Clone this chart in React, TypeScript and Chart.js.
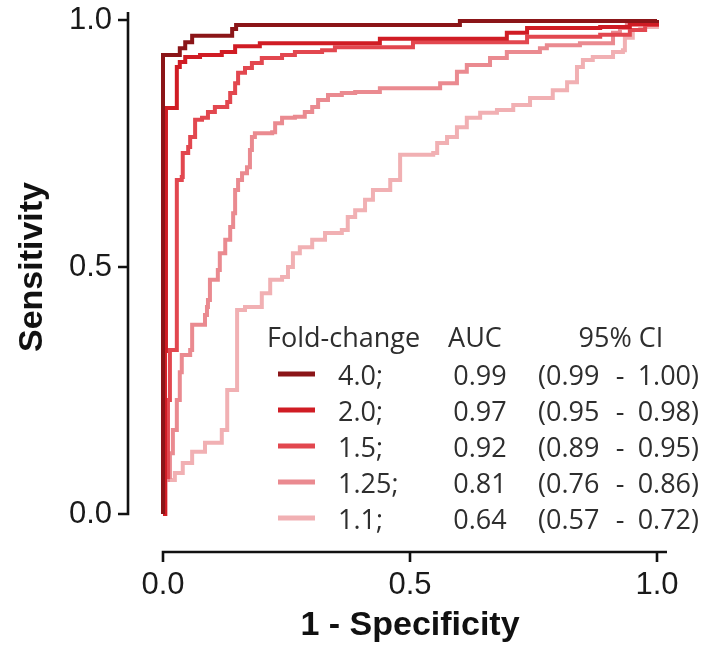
import React, { useEffect, useRef } from 'react';
import { Chart, registerables } from 'chart.js';

Chart.register(...registerables);

// ---- Data ----
const foldChanges = ['4.0;', '2.0;', '1.5;', '1.25;', '1.1;'];
const aucValues = ['0.99', '0.97', '0.92', '0.81', '0.64'];
const ciLow = ['0.99', '0.95', '0.89', '0.76', '0.57'];
const ciHigh = ['1.00', '0.98', '0.95', '0.86', '0.72'];
const seriesColors = ['#8b1518', '#d01c24', '#e2474f', '#ea8a90', '#f1b0b3'];
const axisTicks = [0, 0.5, 1];

// 1 - specificity (x) and sensitivity (y) for each fold-change curve
const fpr40 = [0, 0, 0.034, 0.045, 0.059, 0.140, 0.148, 0.601, 1];
const tpr40 = [0, 0.929, 0.943, 0.955, 0.968, 0.982, 0.990, 0.998, 1];

const fpr20 = [0, 0.004, 0.006, 0.028, 0.034, 0.045, 0.075, 0.119, 0.146, 0.196, 0.439, 0.696, 0.737, 0.885, 0.945, 1];
const tpr20 = [0, 0.33, 0.822, 0.905, 0.915, 0.925, 0.929, 0.935, 0.947, 0.953, 0.962, 0.974, 0.984, 0.986, 0.992, 1];

const fpr15 = [0, 0.004, 0.010, 0.014, 0.028, 0.038, 0.040, 0.051, 0.055, 0.065, 0.079, 0.091, 0.105, 0.130, 0.136, 0.146, 0.152, 0.166, 0.180, 0.200, 0.241, 0.267, 0.322, 0.348, 0.506, 0.737, 0.885, 0.945, 0.976, 1];
const tpr15 = [0, 0.075, 0.231, 0.332, 0.676, 0.682, 0.731, 0.743, 0.763, 0.798, 0.802, 0.814, 0.824, 0.834, 0.852, 0.872, 0.893, 0.903, 0.913, 0.923, 0.929, 0.935, 0.939, 0.945, 0.955, 0.966, 0.970, 0.980, 0.990, 1];

const fpr125 = [0, 0.004, 0.010, 0.014, 0.020, 0.028, 0.034, 0.038, 0.055, 0.059, 0.085, 0.089, 0.091, 0.095, 0.111, 0.115, 0.126, 0.136, 0.142, 0.146, 0.152, 0.160, 0.170, 0.176, 0.180, 0.186, 0.221, 0.227, 0.241, 0.267, 0.287, 0.302, 0.314, 0.334, 0.362, 0.389, 0.439, 0.561, 0.595, 0.615, 0.662, 0.696, 0.763, 0.777, 0.844, 0.911, 0.925, 0.939, 1];
const tpr125 = [0, 0.069, 0.075, 0.123, 0.170, 0.231, 0.287, 0.322, 0.332, 0.383, 0.403, 0.419, 0.433, 0.474, 0.494, 0.528, 0.555, 0.581, 0.609, 0.656, 0.676, 0.690, 0.702, 0.737, 0.763, 0.771, 0.773, 0.791, 0.802, 0.804, 0.814, 0.824, 0.838, 0.848, 0.852, 0.854, 0.862, 0.872, 0.895, 0.909, 0.923, 0.935, 0.943, 0.949, 0.953, 0.974, 0.984, 0.990, 1];

const fpr11 = [0, 0.006, 0.024, 0.040, 0.059, 0.085, 0.119, 0.130, 0.150, 0.166, 0.200, 0.217, 0.241, 0.253, 0.263, 0.277, 0.302, 0.328, 0.362, 0.374, 0.389, 0.409, 0.425, 0.460, 0.480, 0.547, 0.555, 0.575, 0.595, 0.615, 0.642, 0.676, 0.709, 0.743, 0.789, 0.818, 0.838, 0.850, 0.870, 0.911, 0.931, 0.935, 0.951, 0.966, 1];
const tpr11 = [0, 0.069, 0.083, 0.103, 0.126, 0.144, 0.170, 0.251, 0.413, 0.419, 0.447, 0.474, 0.480, 0.500, 0.528, 0.540, 0.555, 0.569, 0.575, 0.601, 0.615, 0.636, 0.656, 0.676, 0.727, 0.731, 0.751, 0.763, 0.783, 0.802, 0.812, 0.818, 0.828, 0.842, 0.858, 0.874, 0.905, 0.919, 0.925, 0.935, 0.939, 0.964, 0.980, 0.986, 1];

const seriesX = [fpr40, fpr20, fpr15, fpr125, fpr11];
const seriesY = [tpr40, tpr20, tpr15, tpr125, tpr11];

const TICK_FONT = { family: '"Liberation Sans", Arial, sans-serif', size: 31 };
const TITLE_FONT = { family: '"Liberation Sans", Arial, sans-serif', size: 34, weight: 'bold' as const };

const offsetAxesPlugin = {
  id: 'offsetAxes',
  afterDraw(chart: any) {
    const { ctx, chartArea, scales } = chart;
    const xs = scales.x;
    const ys = scales.y;
    ctx.save();
    ctx.strokeStyle = '#111';
    ctx.lineWidth = 2.6;
    ctx.lineCap = 'butt';
    // y axis
    const ax = chartArea.left - 35;
    ctx.beginPath();
    ctx.moveTo(ax, ys.getPixelForValue(1) - 8);
    ctx.lineTo(ax, ys.getPixelForValue(0) + 1.3);
    for (const v of axisTicks) {
      const py = ys.getPixelForValue(v);
      ctx.moveTo(ax + 1.3, py);
      ctx.lineTo(ax - 10, py);
    }
    ctx.stroke();
    // x axis
    const ay = chartArea.bottom + 38;
    ctx.beginPath();
    ctx.moveTo(xs.getPixelForValue(0) - 1.3, ay);
    ctx.lineTo(xs.getPixelForValue(1) + 10, ay);
    for (const v of axisTicks) {
      const px = xs.getPixelForValue(v);
      ctx.moveTo(px, ay - 1.3);
      ctx.lineTo(px, ay + 10);
    }
    ctx.stroke();
    ctx.restore();
  },
};

const tableLegendPlugin = {
  id: 'tableLegend',
  afterDraw(chart: any) {
    const { ctx } = chart;
    ctx.save();
    ctx.font = '27px "Open Sans", "Noto Sans", sans-serif';
    ctx.fillStyle = '#2e2e2e';
    ctx.textBaseline = 'middle';
    const headerY = 339;
    ctx.textAlign = 'left';
    ctx.fillText('Fold-change', 267, headerY);
    ctx.textAlign = 'center';
    ctx.fillText('AUC', 475, headerY);
    ctx.fillText('95% CI', 621, headerY);
    for (let i = 0; i < foldChanges.length; i++) {
      const yy = 377 + i * 36;
      ctx.strokeStyle = seriesColors[i];
      ctx.lineWidth = 5;
      ctx.beginPath();
      ctx.moveTo(278, yy - 3);
      ctx.lineTo(315, yy - 3);
      ctx.stroke();
      ctx.textAlign = 'left';
      ctx.fillText(foldChanges[i], 338, yy);
      ctx.textAlign = 'center';
      ctx.fillText(aucValues[i], 480, yy);
      ctx.textAlign = 'left';
      ctx.fillText('(' + ciLow[i], 538, yy);
      ctx.textAlign = 'center';
      ctx.fillText('-', 620, yy);
      ctx.textAlign = 'right';
      ctx.fillText(ciHigh[i] + ')', 699, yy);
    }
    ctx.restore();
  },
};

export default function App() {
  const canvasRef = useRef<HTMLCanvasElement | null>(null);

  useEffect(() => {
    document.body.style.margin = '0';
    document.body.style.overflow = 'hidden';
    const canvas = canvasRef.current;
    if (!canvas) return;
    const datasets = foldChanges.map((fc, i) => ({
      label: fc,
      data: seriesX[i].map((xv, j) => ({ x: xv, y: seriesY[i][j] })),
      borderColor: seriesColors[i],
      backgroundColor: seriesColors[i],
      borderWidth: 4,
      pointRadius: 0,
      stepped: 'before' as const,
      fill: false,
      clip: false as const,
    }));
    const chart = new Chart(canvas, {
      type: 'line',
      data: { datasets },
      options: {
        responsive: false,
        animation: false,
        layout: { padding: { top: 20, right: 53, bottom: 0, left: 0 } },
        plugins: { legend: { display: false }, tooltip: { enabled: false } },
        scales: {
          x: {
            type: 'linear',
            min: 0,
            max: 1,
            grid: { display: false, drawTicks: false },
            border: { display: false },
            ticks: {
              stepSize: 0.5,
              padding: 53,
              font: TICK_FONT,
              color: '#1a1a1a',
              callback: (v: any) => Number(v).toFixed(1),
            },
            title: { display: true, text: '1 - Specificity', font: TITLE_FONT, color: '#111', padding: { top: 0, bottom: 4 } },
            afterFit: (s: any) => {
              s.height = 136;
              s.paddingLeft = 0;
              s.paddingRight = 0;
            },
          },
          y: {
            type: 'linear',
            min: 0,
            max: 1,
            grid: { display: false, drawTicks: false },
            border: { display: false },
            ticks: {
              stepSize: 0.5,
              padding: 51,
              font: TICK_FONT,
              color: '#1a1a1a',
              callback: (v: any) => Number(v).toFixed(1),
            },
            title: { display: true, text: 'Sensitivity', font: TITLE_FONT, color: '#111', padding: { top: 12, bottom: 0 } },
            afterFit: (s: any) => {
              s.width = 163;
              s.paddingTop = 0;
              s.paddingBottom = 0;
            },
          },
        },
      },
      plugins: [offsetAxesPlugin, tableLegendPlugin],
    });
    return () => chart.destroy();
  }, []);

  return (
    <div style={{ width: 710, height: 650 }}>
      <canvas ref={canvasRef} width={710} height={650} style={{ display: 'block' }} />
    </div>
  );
}
